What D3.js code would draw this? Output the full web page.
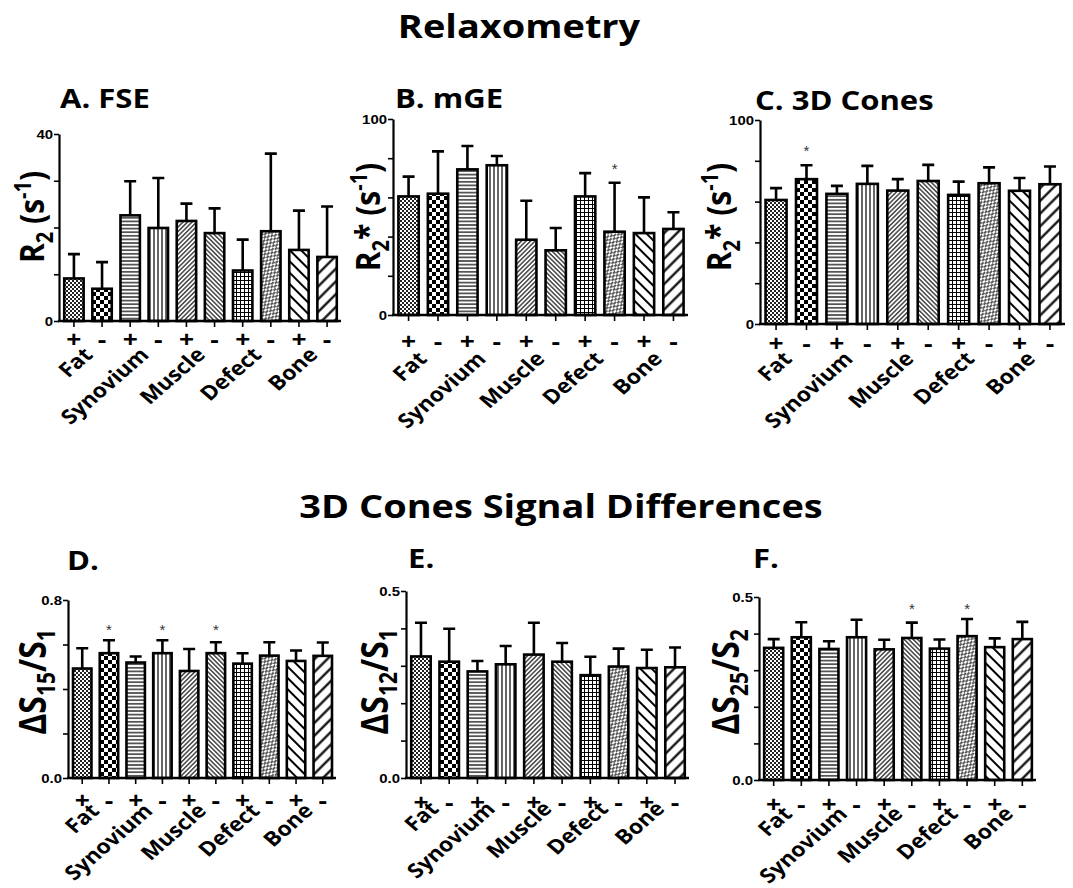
<!DOCTYPE html>
<html>
<head>
<meta charset="utf-8">
<script src="https://cdn.jsdelivr.net/npm/d3@7"></script>
<style>
  body { margin: 0; background: #fff; }
  svg { display: block; }
</style>
</head>
<body>
<svg id="chart" width="1073" height="888"></svg>
<script>
// bar order: + / - for each tissue
const tissues = ["Fat", "Synovium", "Muscle", "Defect", "Bone"];
const signs = ["+", "-"];
const barKeys = tissues.flatMap(t => signs.map(s => t + s));

// A. FSE  R2 (s-1)
const fseMean = [9.1, 6.9, 22.6, 19.9, 21.4, 18.8, 10.8, 19.2, 15.2, 13.7];
const fseSd   = [5.2, 5.7, 7.3, 10.7, 3.7, 5.3, 6.6, 16.6, 8.4, 10.8];
// B. mGE  R2* (s-1)
const mgeMean = [60.5, 61.9, 74.3, 76.4, 38.4, 33.0, 60.5, 42.5, 41.8, 43.9];
const mgeSd   = [10.1, 21.6, 11.9, 4.7, 19.9, 11.4, 11.9, 25.0, 18.2, 8.5];
// C. 3D Cones  R2* (s-1)
const conesMean = [60.8, 71.0, 63.8, 68.7, 65.4, 70.1, 63.3, 69.0, 65.3, 68.5];
const conesSd   = [5.8, 6.8, 3.9, 8.8, 5.6, 7.9, 6.5, 7.8, 6.3, 8.7];
// D. dS15/S1
const ds15Mean = [0.492, 0.561, 0.519, 0.561, 0.481, 0.561, 0.514, 0.550, 0.526, 0.549];
const ds15Sd   = [0.091, 0.058, 0.027, 0.058, 0.099, 0.049, 0.047, 0.060, 0.047, 0.060];
// E. dS12/S1
const ds12Mean = [0.325, 0.311, 0.285, 0.304, 0.330, 0.311, 0.275, 0.298, 0.294, 0.296];
const ds12Sd   = [0.090, 0.088, 0.028, 0.049, 0.085, 0.050, 0.049, 0.048, 0.049, 0.053];
// F. dS25/S2
const ds25Mean = [0.361, 0.390, 0.358, 0.390, 0.357, 0.388, 0.359, 0.393, 0.363, 0.385];
const ds25Sd   = [0.024, 0.041, 0.021, 0.048, 0.026, 0.042, 0.025, 0.047, 0.024, 0.047];

// significance stars: bar index + value level
const starsB = [7], starLevelB = 76.5;
const starsC = [1], starLevelC = 87;
const starsD = [1, 3, 5], starLevelD = 0.683;
const starsF = [5, 7], starLevelF = 0.478;

const ticksR2 = [0, 10, 20, 30, 40];
const ticksR2s = [0, 20, 40, 60, 80, 100];
const ticksD = [0, 0.2, 0.4, 0.6, 0.8];
const ticksEF = [0, 0.1, 0.2, 0.3, 0.4, 0.5];

const patternIds = ["pFine", "pChk", "pHor", "pVer", "pUp", "pDown", "pGrid", "pDash", "pWideDown", "pWideUp"];

// the original figure is stretched sideways, text too
const SX = 1.15;

const r2Lab  = [["R", 30, 0], ["2", 20, 8], [" (s", 30, -8], ["-1", 20, -11], [")", 30, 11]];
const r2sLab = [["R", 30, 0], ["2", 20, 8], ["* (s", 30, -8], ["-1", 20, -11], [")", 30, 11]];

const panels = [
  { title: "A. FSE", tx: 60, ty: 108, mean: fseMean, sd: fseSd, max: 40, ticks: ticksR2, fmt: d3.format("d"),
    xr: [60, 341], yTop: 134, yZero: 321, signDy: 20, labDx: 6, labDy: 35,
    ylab: r2Lab, ylx: 32, yly: 217, stars: [], starLevel: 0 },
  { title: "B. mGE", tx: 395, ty: 108, mean: mgeMean, sd: mgeSd, max: 100, ticks: ticksR2s, fmt: d3.format("d"),
    xr: [394, 688], yTop: 119, yZero: 315, signDy: 28, labDx: 5, labDy: 45,
    ylab: r2sLab, ylx: 368, yly: 217, stars: starsB, starLevel: starLevelB },
  { title: "C. 3D Cones", tx: 755, ty: 110, mean: conesMean, sd: conesSd, max: 100, ticks: ticksR2s, fmt: d3.format("d"),
    xr: [761, 1065], yTop: 120, yZero: 324, signDy: 21, labDx: 2, labDy: 36,
    ylab: r2sLab, ylx: 719, yly: 217, stars: starsC, starLevel: starLevelC },
  { title: "D.", tx: 67, ty: 570, mean: ds15Mean, sd: ds15Sd, max: 0.8, ticks: ticksD, fmt: d3.format(".1f"),
    xr: [69, 336], yTop: 600, yZero: 778, signDy: 24, labDx: 5, labDy: 34,
    ylab: [["ΔS", 32, 0], ["15", 21, 8], ["/S", 32, -8], ["1", 21, 8]], ylx: 34, yly: 682,
    stars: starsD, starLevel: starLevelD },
  { title: "E.", tx: 408, ty: 568, mean: ds12Mean, sd: ds12Sd, max: 0.5, ticks: ticksEF, fmt: d3.format(".1f"),
    xr: [407, 689], yTop: 591, yZero: 778, signDy: 26, labDx: 5, labDy: 32,
    ylab: [["ΔS", 32, 0], ["12", 21, 8], ["/S", 32, -8], ["1", 21, 8]], ylx: 376, yly: 682,
    stars: [], starLevel: 0 },
  { title: "F.", tx: 753, ty: 568, mean: ds25Mean, sd: ds25Sd, max: 0.5, ticks: ticksEF, fmt: d3.format(".1f"),
    xr: [760, 1036], yTop: 597, yZero: 780, signDy: 26, labDx: 6, labDy: 35,
    ylab: [["ΔS", 32, 0], ["25", 21, 8], ["/S", 32, -8], ["2", 21, 8]], ylx: 727, yly: 682,
    stars: starsF, starLevel: starLevelF }
];

const svg = d3.select("#chart");
const TXT = "'Open Sans', 'DejaVu Sans', sans-serif";
const NUM = "'Liberation Sans', Arial, sans-serif";

// ---- fill patterns ----
const defs = svg.append("defs");
function pat(id, w, h, rot) {
  const p = defs.append("pattern").attr("id", id)
    .attr("patternUnits", "userSpaceOnUse")
    .attr("width", w).attr("height", h);
  if (rot) p.attr("patternTransform", `rotate(${rot})`);
  p.append("rect").attr("width", w).attr("height", h).attr("fill", "#fff");
  return p;
}
function vline(p, x, y1, y2, sw) {
  p.append("line").attr("x1", x).attr("x2", x).attr("y1", y1).attr("y2", y2)
    .attr("stroke", "#000").attr("stroke-width", sw);
}
let p = pat("pFine", 4, 4);
p.append("rect").attr("width", 2).attr("height", 2).attr("fill", "#222");
p.append("rect").attr("x", 2).attr("y", 2).attr("width", 2).attr("height", 2).attr("fill", "#222");
p = pat("pChk", 8, 8);
p.append("rect").attr("width", 4).attr("height", 4).attr("fill", "#000");
p.append("rect").attr("x", 4).attr("y", 4).attr("width", 4).attr("height", 4).attr("fill", "#000");
p = pat("pHor", 4, 3.6);
p.append("line").attr("x1", 0).attr("x2", 4).attr("y1", 1.8).attr("y2", 1.8).attr("stroke", "#000").attr("stroke-width", 1.2);
p = pat("pVer", 4, 4);
vline(p, 2, 0, 4, 1.2);
p = pat("pUp", 3.2, 10, 45);
vline(p, 1.6, 0, 10, 1.1);
p = pat("pDown", 3.2, 10, -45);
vline(p, 1.6, 0, 10, 1.1);
p = pat("pGrid", 4, 4);
p.append("line").attr("x1", 0).attr("x2", 4).attr("y1", 0.5).attr("y2", 0.5).attr("stroke", "#000").attr("stroke-width", 1);
vline(p, 0.5, 0, 4, 1);
p = pat("pDash", 4, 6, 45);
vline(p, 1, 0, 3.5, 1.3);
vline(p, 3, 3, 6, 1.3);
p = pat("pWideDown", 8, 10, -45);
vline(p, 4, 0, 10, 2);
p = pat("pWideUp", 9, 10, 45);
vline(p, 4.5, 0, 10, 2.2);

// stretched text helper
function stext(parent, x, y, rot) {
  return parent.append("text")
    .attr("transform", `translate(${x},${y}) scale(${SX},1)` + (rot ? ` rotate(${rot})` : ""));
}

// ---- section titles ----
stext(svg, 519, 38).attr("text-anchor", "middle")
  .style("font-family", TXT).style("font-weight", 700).style("font-size", "33px")
  .text("Relaxometry");
stext(svg, 561, 518).attr("text-anchor", "middle")
  .style("font-family", TXT).style("font-weight", 700).style("font-size", "33px")
  .text("3D Cones Signal Differences");

panels.forEach(drawPanel);

function drawPanel(cfg) {
  const g = svg.append("g");
  const x = d3.scaleBand().domain(barKeys).range(cfg.xr).paddingInner(0.31).paddingOuter(0.15);
  const y = d3.scaleLinear().domain([0, cfg.max]).range([cfg.yZero, cfg.yTop]);
  const bw = x.bandwidth();
  const rows = barKeys.map((k, i) => ({ key: k, i, mean: cfg.mean[i], sd: cfg.sd[i] }));

  stext(g, cfg.tx, cfg.ty)
    .style("font-family", TXT).style("font-weight", 700).style("font-size", "27px")
    .text(cfg.title);

  // error bars (upper only)
  g.selectAll(".err").data(rows).enter().append("path")
    .attr("d", d => {
      const cx = x(d.key) + bw / 2, top = y(d.mean + d.sd);
      return `M${cx},${y(d.mean)}V${top}M${cx - 6},${top}H${cx + 6}`;
    })
    .attr("fill", "none").attr("stroke", "#000").attr("stroke-width", 2.6);

  g.selectAll(".bar").data(rows).enter().append("rect")
    .attr("x", d => x(d.key)).attr("width", bw)
    .attr("y", d => y(d.mean)).attr("height", d => y(0) - y(d.mean))
    .attr("fill", d => `url(#${patternIds[d.i]})`)
    .attr("stroke", "#000").attr("stroke-width", 2.6);

  // axes
  const yAxis = d3.axisLeft(y).tickValues(cfg.ticks).tickSize(5).tickSizeOuter(0).tickFormat("");
  const ya = g.append("g").attr("transform", `translate(${cfg.xr[0] - 1},0)`).call(yAxis);
  ya.select(".domain").attr("stroke-width", 2.2);
  ya.selectAll(".tick line").attr("stroke-width", 1.6);
  [0, cfg.max].forEach(v => {
    stext(g, cfg.xr[0] - 7, y(v) + 4.5).attr("text-anchor", "end")
      .style("font-family", NUM).style("font-weight", 700).style("font-size", "13px")
      .text(cfg.fmt(v));
  });

  const xAxis = d3.axisBottom(x).tickSize(6).tickSizeOuter(0).tickFormat("");
  const xa = g.append("g").attr("transform", `translate(0,${cfg.yZero})`).call(xAxis);
  xa.select(".domain").attr("stroke-width", 2.6)
    .attr("d", `M${cfg.xr[0] - 2},0H${cfg.xr[1]}`);
  xa.selectAll(".tick line").attr("stroke-width", 1.6);

  // + / - signs
  rows.forEach(d => {
    stext(g, x(d.key) + bw / 2, cfg.yZero + cfg.signDy + 7).attr("text-anchor", "middle")
      .style("font-family", TXT).style("font-weight", 700).style("font-size", "23px")
      .text(signs[d.i % 2]);
  });

  // tissue labels, rotated
  tissues.forEach(t => {
    const cx = (x(t + "+") + x(t + "-") + bw) / 2 + cfg.labDx;
    stext(g, cx, cfg.yZero + cfg.labDy, -45).attr("text-anchor", "end")
      .style("font-family", TXT).style("font-weight", 700).style("font-size", "20px")
      .text(t);
  });

  // stars
  g.selectAll(".star").data(cfg.stars).enter().append("text")
    .attr("x", i => x(barKeys[i]) + bw / 2).attr("y", y(cfg.starLevel) + 9)
    .attr("text-anchor", "middle")
    .style("font-family", NUM).style("font-size", "15px").attr("fill", "#333")
    .text("*");

  // y label
  const yl = stext(g, cfg.ylx + 12, cfg.yly, -90).attr("text-anchor", "middle")
    .style("font-family", TXT).style("font-weight", 700);
  cfg.ylab.forEach(([s, fs, dy]) => {
    yl.append("tspan").attr("dy", dy).style("font-size", fs + "px").text(s);
  });
}
</script>
</body>
</html>
